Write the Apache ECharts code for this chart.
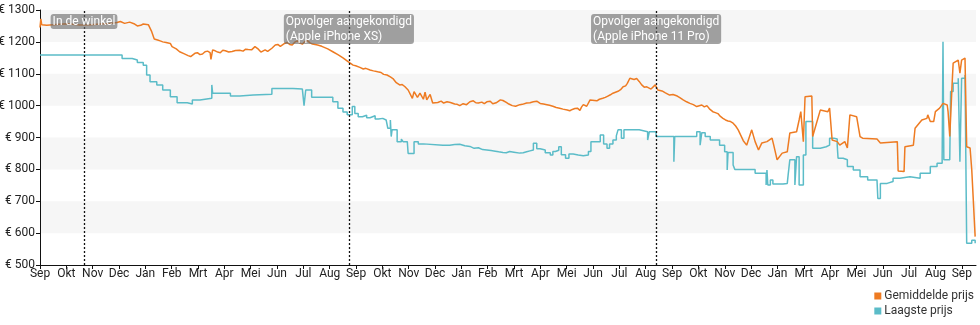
<!DOCTYPE html>
<html>
<head>
<meta charset="utf-8">
<script src="https://cdn.jsdelivr.net/npm/echarts@6/dist/echarts.min.js"></script>
<style>
  html, body { margin: 0; padding: 0; background: #fff; }
  #chart { width: 980px; height: 325px; }
</style>
</head>
<body>
<div id="chart"></div>
<script>
// Price history: average price and lowest price, in euro
const avgPrice = [
  ['2017-09-12',1245],['2017-09-13',1272],['2017-09-14',1254],['2017-09-20',1252],['2017-10-05',1255],
  ['2017-10-15',1257],['2017-10-29',1253],['2017-11-10',1254],['2017-11-22',1256],['2017-12-03',1258],
  ['2017-12-12',1261],['2017-12-16',1264],['2017-12-21',1258],['2017-12-27',1262],['2018-01-01',1257],
  ['2018-01-05',1250],['2018-01-09',1252],['2018-01-12',1256],['2018-01-18',1254],['2018-01-22',1232],
  ['2018-01-25',1209],['2018-01-29',1206],['2018-02-01',1203],['2018-02-04',1200],['2018-02-08',1198],
  ['2018-02-10',1199],['2018-02-13',1195],['2018-02-15',1185],['2018-02-20',1178],['2018-02-24',1169],
  ['2018-03-01',1163],['2018-03-03',1160],['2018-03-06',1157],['2018-03-09',1154],['2018-03-11',1158],
  ['2018-03-14',1164],['2018-03-17',1166],['2018-03-20',1160],['2018-03-23',1162],['2018-03-26',1169],
  ['2018-03-29',1171],['2018-04-01',1166],['2018-04-02',1145],['2018-04-04',1175],['2018-04-07',1172],
  ['2018-04-10',1168],['2018-04-13',1166],['2018-04-16',1174],['2018-04-19',1172],['2018-04-23',1168],
  ['2018-04-27',1170],['2018-05-01',1173],['2018-05-06',1174],['2018-05-10',1171],['2018-05-13',1177],
  ['2018-05-16',1176],['2018-05-20',1175],['2018-05-24',1185],['2018-05-28',1177],['2018-05-31',1168],
  ['2018-06-02',1172],['2018-06-05',1175],['2018-06-08',1170],['2018-06-10',1167],['2018-06-13',1180],
  ['2018-06-17',1190],['2018-06-20',1192],['2018-06-23',1186],['2018-06-25',1189],['2018-06-28',1195],
  ['2018-07-01',1198],['2018-07-04',1192],['2018-07-07',1190],['2018-07-10',1199],['2018-07-13',1203],
  ['2018-07-16',1196],['2018-07-19',1193],['2018-07-22',1201],['2018-07-25',1204],['2018-07-28',1197],
  ['2018-07-31',1193],['2018-08-02',1195],['2018-08-06',1190],['2018-08-11',1186],['2018-08-18',1178],
  ['2018-08-24',1169],['2018-08-30',1160],['2018-09-05',1150],['2018-09-11',1138],['2018-09-17',1127],
  ['2018-09-20',1125],['2018-09-25',1120],['2018-09-29',1115],['2018-10-02',1117],['2018-10-07',1112],
  ['2018-10-11',1109],['2018-10-16',1106],['2018-10-20',1104],['2018-10-23',1098],['2018-10-27',1096],
  ['2018-10-31',1090],['2018-11-03',1085],['2018-11-07',1072],['2018-11-11',1065],['2018-11-14',1066],
  ['2018-11-17',1060],['2018-11-21',1049],['2018-11-26',1023],['2018-11-28',1044],['2018-11-30',1045],
  ['2018-12-02',1026],['2018-12-05',1039],['2018-12-09',1020],['2018-12-11',1042],['2018-12-13',1018],
  ['2018-12-17',1035],['2018-12-20',1008],['2018-12-26',1010],['2018-12-30',1014],['2019-01-02',1008],
  ['2019-01-06',1012],['2019-01-10',1010],['2019-01-15',1005],['2019-01-18',1004],['2019-01-21',1000],
  ['2019-01-25',1006],['2019-01-29',1003],['2019-02-02',1012],['2019-02-06',1015],['2019-02-09',1009],
  ['2019-02-12',1008],['2019-02-16',1011],['2019-02-19',1006],['2019-02-22',1012],['2019-02-26',1014],
  ['2019-03-01',1006],['2019-03-05',1009],['2019-03-10',1018],['2019-03-13',1016],['2019-03-17',1010],
  ['2019-03-20',1005],['2019-03-24',1000],['2019-03-28',998],['2019-04-02',1003],['2019-04-05',1004],
  ['2019-04-10',1008],['2019-04-14',1009],['2019-04-18',1012],['2019-04-22',1014],['2019-04-26',1007],
  ['2019-04-30',1005],['2019-05-04',1003],['2019-05-07',1001],['2019-05-11',998],['2019-05-15',994],
  ['2019-05-19',992],['2019-05-23',989],['2019-05-28',986],['2019-05-31',984],['2019-06-03',988],
  ['2019-06-06',991],['2019-06-09',992],['2019-06-12',985],['2019-06-14',996],['2019-06-16',1003],
  ['2019-06-20',998],['2019-06-24',1018],['2019-07-02',1015],['2019-07-05',1020],['2019-07-09',1023],
  ['2019-07-12',1026],['2019-07-15',1030],['2019-07-18',1034],['2019-07-21',1039],['2019-07-24',1042],
  ['2019-07-27',1045],['2019-07-30',1050],['2019-08-02',1059],['2019-08-05',1062],['2019-08-07',1070],
  ['2019-08-10',1086],['2019-08-12',1080],['2019-08-15',1082],['2019-08-18',1085],['2019-08-21',1076],
  ['2019-08-24',1065],['2019-08-27',1058],['2019-08-30',1059],['2019-09-04',1052],['2019-09-09',1065],
  ['2019-09-12',1049],['2019-09-17',1046],['2019-09-21',1040],['2019-09-26',1033],['2019-09-30',1035],
  ['2019-10-05',1030],['2019-10-08',1025],['2019-10-12',1018],['2019-10-16',1012],['2019-10-20',1007],
  ['2019-10-24',1003],['2019-10-28',997],['2019-11-03',1002],['2019-11-06',996],['2019-11-09',1000],
  ['2019-11-12',990],['2019-11-16',981],['2019-11-19',978],['2019-11-22',975],['2019-11-25',966],
  ['2019-11-28',960],['2019-12-01',955],['2019-12-04',952],['2019-12-07',950],['2019-12-10',945],
  ['2019-12-13',936],['2019-12-16',924],['2019-12-18',918],['2019-12-22',890],['2019-12-26',876],
  ['2020-01-01',924],['2020-01-05',887],['2020-01-09',861],['2020-01-13',883],['2020-01-19',887],
  ['2020-01-25',898],['2020-01-27',876],['2020-01-31',830],['2020-02-06',851],['2020-02-12',855],
  ['2020-02-15',914],['2020-02-23',918],['2020-02-26',955],['2020-02-28',981],['2020-03-02',887],
  ['2020-03-04',1028],['2020-03-12',1030],['2020-03-13',903],['2020-03-17',940],['2020-03-22',986],
  ['2020-03-31',981],['2020-04-02',992],['2020-04-05',892],['2020-04-11',887],['2020-04-14',876],
  ['2020-04-20',887],['2020-04-23',867],['2020-04-26',971],['2020-05-04',965],['2020-05-08',903],
  ['2020-05-11',898],['2020-05-28',895],['2020-06-01',883],['2020-06-21',887],['2020-06-22',795],
  ['2020-06-29',793],['2020-06-30',871],['2020-07-10',876],['2020-07-12',929],['2020-07-20',955],
  ['2020-07-26',960],['2020-07-27',971],['2020-07-30',950],['2020-08-03',950],['2020-08-05',981],
  ['2020-08-10',992],['2020-08-14',1007],['2020-08-19',1002],['2020-08-20',981],['2020-08-22',903],
  ['2020-08-25',1080],['2020-08-26',1133],['2020-09-01',1143],['2020-09-03',1102],['2020-09-05',1143],
  ['2020-09-09',1149],['2020-09-11',871],['2020-09-15',867],['2020-09-17',798],['2020-09-21',589]
];

const lowPrice = [
  ['2017-09-12',1159],['2017-12-18',1148],['2017-12-30',1143],['2018-01-05',1135],['2018-01-12',1127],
  ['2018-01-16',1096],['2018-01-20',1075],['2018-01-28',1065],['2018-02-04',1049],['2018-02-13',1028],
  ['2018-02-21',1009],['2018-03-05',1005],['2018-03-11',1018],['2018-03-20',1023],['2018-04-03',1065],
  ['2018-04-04',1039],['2018-04-25',1030],['2018-05-06',1033],['2018-05-22',1036],['2018-06-13',1054],
  ['2018-07-08',1052],['2018-07-19',1049],['2018-07-21',1000],['2018-07-23',1049],['2018-07-30',1026],
  ['2018-08-24',1012],['2018-08-30',992],['2018-09-05',980],['2018-09-10',971],['2018-09-16',997],
  ['2018-09-19',975],['2018-09-23',965],['2018-09-28',970],['2018-10-03',962],['2018-10-07',965],
  ['2018-10-10',968],['2018-10-13',958],['2018-10-17',960],['2018-10-22',955],['2018-10-26',960],
  ['2018-10-28',929],['2018-10-31',955],['2018-11-01',903],['2018-11-02',924],['2018-11-08',887],
  ['2018-11-13',895],['2018-11-15',887],['2018-11-20',892],['2018-11-21',850],['2018-11-28',887],
  ['2018-12-03',880],['2018-12-09',876],['2019-01-01',876],['2019-01-09',878],['2019-01-15',879],
  ['2019-01-21',874],['2019-01-27',872],['2019-02-02',866],['2019-02-07',868],['2019-02-12',862],
  ['2019-02-17',861],['2019-02-22',859],['2019-02-27',857],['2019-03-04',855],['2019-03-08',853],
  ['2019-03-13',852],['2019-03-17',856],['2019-03-21',854],['2019-03-26',851],['2019-04-02',852],
  ['2019-04-06',855],['2019-04-10',858],['2019-04-14',861],['2019-04-18',882],['2019-04-22',865],
  ['2019-04-26',861],['2019-05-02',852],['2019-05-08',845],['2019-05-11',856],['2019-05-14',860],
  ['2019-05-18',871],['2019-05-21',846],['2019-05-26',835],['2019-05-30',848],['2019-06-04',845],
  ['2019-06-10',843],['2019-06-16',845],['2019-06-22',856],['2019-06-25',887],['2019-07-02',887],
  ['2019-07-06',908],['2019-07-10',880],['2019-07-14',866],['2019-07-17',880],['2019-07-21',892],
  ['2019-07-25',905],['2019-07-27',924],['2019-07-31',898],['2019-08-03',924],['2019-08-21',918],
  ['2019-08-31',892],['2019-09-02',918],['2019-09-10',903],['2019-10-01',824],['2019-10-02',903],
  ['2019-10-28',918],['2019-11-01',876],['2019-11-03',915],['2019-11-07',903],['2019-11-13',892],
  ['2019-11-24',876],['2019-11-30',855],['2019-12-03',798],['2019-12-04',853],['2019-12-10',814],
  ['2019-12-12',800],['2020-01-05',788],['2020-01-18',751],['2020-01-19',798],['2020-01-20',751],
  ['2020-01-23',767],['2020-01-26',754],['2020-02-07',756],['2020-02-12',762],['2020-02-13',782],
  ['2020-02-15',830],['2020-02-21',751],['2020-02-23',840],['2020-02-26',751],['2020-03-02',845],
  ['2020-03-05',950],['2020-03-13',866],['2020-03-22',871],['2020-03-29',876],['2020-04-02',898],
  ['2020-04-07',895],['2020-04-11',876],['2020-04-12',835],['2020-04-18',830],['2020-04-23',809],
  ['2020-04-30',798],['2020-05-08',777],['2020-05-17',767],['2020-05-28',762],['2020-05-29',709],
  ['2020-06-01',756],['2020-06-09',762],['2020-06-16',772],['2020-06-24',777],['2020-07-06',772],
  ['2020-07-18',788],['2020-07-30',809],['2020-08-07',819],['2020-08-13',830],['2020-08-14',1200],
  ['2020-08-15',830],['2020-08-22',828],['2020-08-23',1044],['2020-08-26',1070],['2020-09-01',1086],
  ['2020-09-03',824],['2020-09-05',1086],['2020-09-09',1096],['2020-09-11',568],['2020-09-17',578],
  ['2020-09-21',568]
];

// Milestones drawn as dotted vertical lines
const eventDates = ['2017-11-03', '2018-09-12', '2019-09-10'];
const eventLabels = ['In de winkel', 'Opvolger aangekondigd\n(Apple iPhone XS)', 'Opvolger aangekondigd\n(Apple iPhone 11 Pro)'];

const seriesNames = ['Gemiddelde prijs', 'Laagste prijs'];
const monthNames = ['Jan', 'Feb', 'Mrt', 'Apr', 'Mei', 'Jun', 'Jul', 'Aug', 'Sep', 'Okt', 'Nov', 'Dec'];
const yTicks = [500, 600, 700, 800, 900, 1000, 1100, 1200, 1300];

// The x axis counts days from the first day of the history
const START = Date.UTC(2017, 8, 12);
const END_DAY = 1106;
const TICK_DAYS = 31.12;
const DAY_MS = 86400000;
const toDay = s => (Date.parse(s) - START) / DAY_MS;
const toPoints = rows => rows.map(r => [toDay(r[0]), r[1]]);

const tickDays = [];
for (let k = 0; k * TICK_DAYS <= END_DAY - 5; k++) tickDays.push(k * TICK_DAYS);

const FONT = 'Roboto, "Noto Sans", Arial, sans-serif';

const chart = echarts.init(document.getElementById('chart'), null, { renderer: 'canvas' });

chart.setOption({
  animation: false,
  backgroundColor: '#ffffff',
  textStyle: { fontFamily: FONT },
  color: ['#ee7b22', '#5bbcc8'],
  grid: { left: 40, right: 4, top: 10, bottom: 60, containLabel: false, outerBoundsMode: 'none' },
  legend: {
    data: seriesNames.map(n => ({ name: n, icon: 'rect' })),
    orient: 'vertical',
    right: 6,
    top: 290,
    itemWidth: 7,
    itemHeight: 7,
    itemGap: 3,
    padding: 0,
    textStyle: { fontFamily: FONT, fontSize: 12, color: '#333', padding: [0, 0, 0, -2] }
  },
  xAxis: {
    type: 'value',
    min: 0,
    max: END_DAY,
    interval: TICK_DAYS,
    axisLine: { show: true, lineStyle: { color: '#111', width: 1 } },
    axisTick: { show: true, length: 4, customValues: tickDays, lineStyle: { color: '#111' } },
    splitLine: { show: false },
    axisLabel: {
      customValues: tickDays,
      hideOverlap: false,
      margin: 3,
      fontSize: 12,
      fontFamily: FONT,
      color: '#222',
      formatter: v => monthNames[new Date(START + v * DAY_MS).getUTCMonth()]
    }
  },
  yAxis: {
    type: 'value',
    min: yTicks[0],
    max: yTicks[yTicks.length - 1],
    interval: 100,
    axisLine: { show: true, lineStyle: { color: '#111', width: 1 } },
    axisTick: { show: true, length: 4, lineStyle: { color: '#111' } },
    splitLine: { show: false },
    splitArea: { show: true, areaStyle: { color: ['rgba(255,255,255,0)', '#f6f6f6'] } },
    axisLabel: {
      margin: 5,
      fontSize: 12,
      fontFamily: FONT,
      color: '#222',
      formatter: v => '€ ' + v
    }
  },
  series: [
    {
      name: seriesNames[0],
      type: 'line',
      data: toPoints(avgPrice),
      showSymbol: false,
      symbol: 'none',
      lineStyle: { width: 1.5 },
      z: 3,
      markLine: {
        silent: true,
        symbol: ['none', 'none'],
        lineStyle: { color: '#111', type: [2, 2], width: 1.3 },
        label: { show: false },
        data: eventDates.map(d => ({ xAxis: toDay(d) }))
      },
      markPoint: {
        silent: true,
        symbol: 'rect',
        symbolSize: 0,
        label: {
          show: true,
          position: 'bottom',
          distance: 4,
          align: 'center',
          color: '#fff',
          fontSize: 12,
          fontFamily: FONT,
          lineHeight: 15,
          backgroundColor: 'rgba(105,105,105,0.62)',
          borderRadius: 3,
          padding: [0, 2, 0, 2],
          formatter: p => p.name.split('\n').map(s => '{l|' + s + '}').join('\n'),
          rich: { l: { align: 'left', color: '#fff', fontSize: 12, fontFamily: FONT, lineHeight: 15 } }
        },
        data: eventDates.map((d, i) => ({ name: eventLabels[i], coord: [toDay(d), yTicks[yTicks.length - 1]] }))
      }
    },
    {
      name: seriesNames[1],
      type: 'line',
      data: toPoints(lowPrice),
      step: 'end',
      showSymbol: false,
      symbol: 'none',
      lineStyle: { width: 1.5 },
      z: 2
    }
  ]
});
</script>
</body>
</html>
